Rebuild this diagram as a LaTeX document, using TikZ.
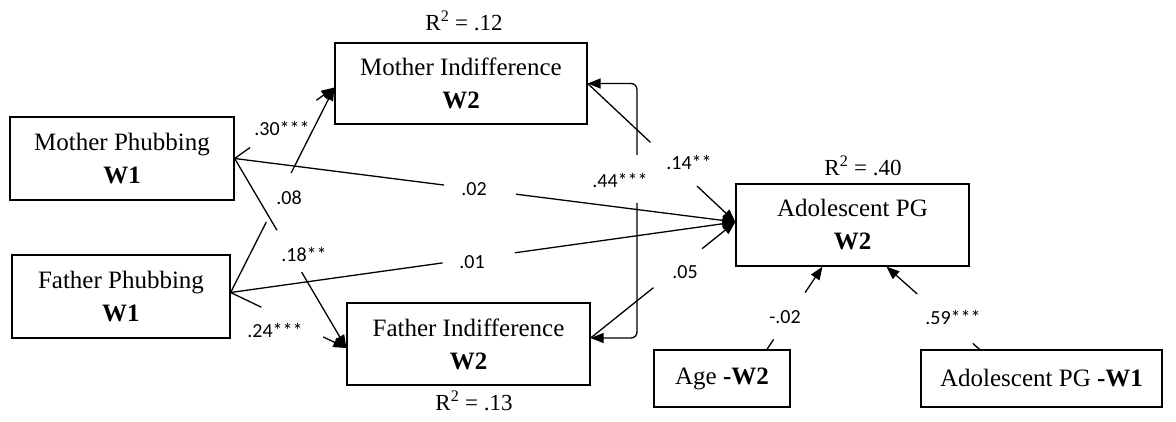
\documentclass[tikz,border=0pt]{standalone}
\usepackage{fontspec}
\setmainfont{Liberation Serif}
\newfontfamily\calibri{Carlito}
\usetikzlibrary{arrows.meta,calc}

\begin{document}
\begin{tikzpicture}[x=1pt, y=-1pt,
    box/.style={draw, line width=1.3pt, inner sep=0pt, align=center, font=\fontsize{25}{33}\selectfont},
    coef/.style={font=\calibri\fontsize{20}{24}\selectfont, inner sep=0pt},
    rsq/.style={font=\fontsize{23}{27}\selectfont, inner sep=0pt},
    link/.style={line width=1.3pt},
    arr/.style={-{Triangle[length=13pt,width=10pt]}},
    rarr/.style={{Triangle[length=13pt,width=10pt]}-}]
        \useasboundingbox (0,0) rectangle (1176,422);

        % boxes
        \node[box, minimum width=224pt, minimum height=83pt] (mp) at (122,158.5) {Mother Phubbing\\ \textbf{W1}};
        \node[box, minimum width=218pt, minimum height=83pt] (fp) at (121,296.5) {Father Phubbing\\ \textbf{W1}};
        \node[box, minimum width=252pt, minimum height=81pt] (mi) at (461,83.5) {Mother Indifference\\ \textbf{W2}};
        \node[box, minimum width=243pt, minimum height=82pt] (fi) at (468.5,344) {Father Indifference\\ \textbf{W2}};
        \node[box, minimum width=233pt, minimum height=82pt] (apg) at (852.5,225) {Adolescent PG\\ \textbf{W2}};
        \node[box, minimum width=136pt, minimum height=57pt] (age) at (722,378.5) {Age \textbf{-W2}};
        \node[box, minimum width=241pt, minimum height=57pt] (pg1) at (1041.5,378.5) {Adolescent PG \textbf{-W1}};

        % R squared
        \node[rsq] (r12) at (464,21) {R\textsuperscript{2} = .12};
        \node[rsq] (r13) at (474,401) {R\textsuperscript{2} = .13};
        \node[rsq] (r40) at (863,166) {R\textsuperscript{2} = .40};

        % ports
        \coordinate (miW) at ([yshift=-4pt]mi.west);
        \coordinate (fiW) at ([yshift=-4pt]fi.west);
        \coordinate (fiE) at ([yshift=6pt]fi.east);
        \coordinate (fpE) at ([yshift=4pt]fp.east);
        \coordinate (apgW) at ([yshift=3pt]apg.west);
        \coordinate (apgS1) at ([xshift=-30pt]apg.south);
        \coordinate (apgS2) at ([xshift=34pt]apg.south);
        \coordinate (ageN) at ([xshift=45pt]age.north);
        \coordinate (pg1N) at ([xshift=-62pt]pg1.north);

        % paths, each broken where its coefficient sits
        \draw[link] (mp.east) -- ($(mp.east)!.155!(miW)$);
        \draw[link, arr] ($(mp.east)!.82!(miW)$) -- (miW);

        \draw[link] (fpE) -- ($(fpE)!.343!(miW)$);
        \draw[link, arr] ($(fpE)!.583!(miW)$) -- (miW);

        \draw[link] (mp.east) -- ($(mp.east)!.379!(fiW)$);
        \draw[link, arr] ($(mp.east)!.6!(fiW)$) -- (fiW);

        \draw[link] (fpE) -- ($(fpE)!.265!(fiW)$);
        \draw[link, arr] ($(fpE)!.8!(fiW)$) -- (fiW);

        \draw[link] (mp.east) -- ($(mp.east)!.418!(apgW)$);
        \draw[link, arr] ($(mp.east)!.562!(apgW)$) -- (apgW);

        \draw[link] (fpE) -- ($(fpE)!.42!(apgW)$);
        \draw[link, arr] ($(fpE)!.563!(apgW)$) -- (apgW);

        \draw[link] (mi.east) -- ($(mi.east)!.425!(apgW)$);
        \draw[link, arr] ($(mi.east)!.74!(apgW)$) -- (apgW);

        \draw[link] (fiE) -- ($(fiE)!.434!(apgW)$);
        \draw[link, arr] ($(fiE)!.77!(apgW)$) -- (apgW);

        \draw[link] (ageN) -- ($(ageN)!.12!(apgS1)$);
        \draw[link, arr] ($(ageN)!.687!(apgS1)$) -- (apgS1);

        \draw[link] (pg1N) -- ($(pg1N)!.073!(apgS2)$);
        \draw[link, arr] ($(pg1N)!.67!(apgS2)$) -- (apgS2);

        % correlation of the two indifference scores
        \coordinate (c44a) at (637,155);
        \coordinate (c44b) at (637,203);
        \draw[link, rarr, rounded corners=6pt] (mi.east) -| (c44a);
        \draw[link, arr, rounded corners=6pt] (c44b) |- (fiE);

        % coefficients
        \node[coef] (l30) at (282,128) {.30***};
        \node[coef] (l08) at (289,198) {.08};
        \node[coef] (l18) at (304,254) {.18**};
        \node[coef] (l24) at (275,330) {.24***};
        \node[coef] (l02) at (474,189) {.02};
        \node[coef] (l01) at (472,262) {.01};
        \node[coef] (l44) at (620,180) {.44***};
        \node[coef] (l14) at (689,162) {.14**};
        \node[coef] (l05) at (685,272) {.05};
        \node[coef] (lage) at (785,317) {-.02};
        \node[coef] (l59) at (953,317) {.59***};
\end{tikzpicture}
\end{document}
